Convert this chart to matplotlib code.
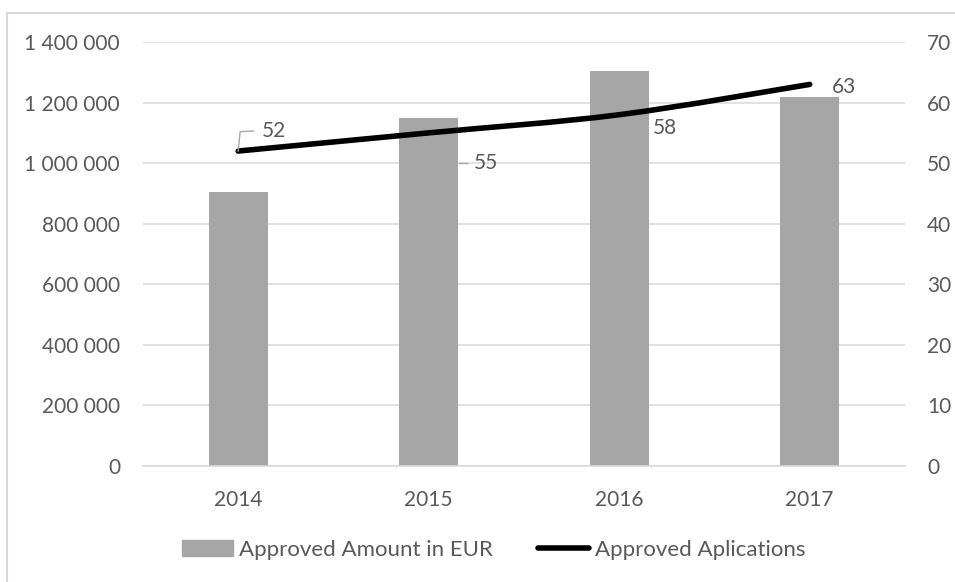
import matplotlib
matplotlib.use("Agg")
import matplotlib.pyplot as plt
from matplotlib.path import Path
from matplotlib.patches import PathPatch, Rectangle
from matplotlib.lines import Line2D
from matplotlib.ticker import FuncFormatter

plt.rcParams['font.family'] = ['Lato', 'DejaVu Sans']

years = ['2014', '2015', '2016', '2017']
amount = [905000, 1148000, 1305000, 1220000]
applications = [52, 55, 58, 63]

txt = '#595959'
grid = '#d9d9d9'
bar_col = '#a6a6a6'
fs = 15

fig = plt.figure(figsize=(9.55, 5.82), dpi=100)
ax = fig.add_axes([0.1497, 0.1993, 0.7979, 0.7285])
ax2 = ax.twinx()

x = list(range(len(years)))
ax.bar(x, amount, width=0.31, color=bar_col, zorder=2)
ax.set_xlim(-0.5, 3.5)
ax.set_ylim(0, 1400000)
ax.set_yticks(range(0, 1400001, 200000))
ax.yaxis.set_major_formatter(FuncFormatter(lambda v, p: f"{int(v):,}".replace(',', ' ')))
ax.grid(axis='y', color=grid, lw=1.1, zorder=0)
ax.set_axisbelow(True)
ax.set_xticks(x)
ax.set_xticklabels(years)

ax2.set_ylim(0, 70)
ax2.set_yticks(range(0, 71, 10))

for a in (ax, ax2):
    for s in a.spines.values():
        s.set_visible(False)
    a.tick_params(length=0, colors=txt, labelsize=fs)
ax.spines['bottom'].set_visible(True)
ax.spines['bottom'].set_color(grid)
ax.spines['bottom'].set_linewidth(1.1)
ax.tick_params(axis='y', pad=16.5)
ax.tick_params(axis='x', pad=17)
ax2.tick_params(axis='y', pad=16)

# smoothed line (Catmull-Rom style bezier through the data points)
pts = list(zip(x, applications))
verts = [pts[0]]
codes = [Path.MOVETO]
for i in range(len(pts) - 1):
    p0 = pts[i - 1] if i > 0 else pts[i]
    p1 = pts[i]
    p2 = pts[i + 1]
    p3 = pts[i + 2] if i + 2 < len(pts) else pts[i + 1]
    c1 = (p1[0] + (p2[0] - p0[0]) / 6, p1[1] + (p2[1] - p0[1]) / 6)
    c2 = (p2[0] - (p3[0] - p1[0]) / 6, p2[1] - (p3[1] - p1[1]) / 6)
    verts += [c1, c2, p2]
    codes += [Path.CURVE4] * 3
ax2.add_patch(PathPatch(Path(verts, codes), fill=False, edgecolor='black',
                        lw=4.0, capstyle='round', joinstyle='round', zorder=3))

# data labels
offsets = [(0.19, 3.3), (0.30, -5.0), (0.24, -2.2), (0.18, -0.5)]
for xi, v, (dx, dy) in zip(x, applications, offsets):
    ax2.text(xi + dx, v + dy, str(v), color=txt, fontsize=fs, ha='center', va='center', zorder=4)
# leader lines
ax2.plot([0, 0.01, 0.08], [52, 55.2, 55.3], color='#a6a6a6', lw=1, zorder=4)
ax2.plot([1.16, 1.2], [50.0, 50.0], color='#a6a6a6', lw=1, zorder=4)

# legend
handles = [Rectangle((0, 0), 1, 1, color=bar_col),
           Line2D([0], [0], color='black', lw=4.0, solid_capstyle='round')]
fig.legend(handles, ['Approved Amount in EUR', 'Approved Aplications'],
           loc='center', bbox_to_anchor=(0.517, 0.055), ncol=2, frameon=False,
           fontsize=16, labelcolor=txt, handlelength=2.3, handletextpad=0.3,
           columnspacing=2.0)

# chart border (only top and left edges fall inside the image)
fig.patches.append(Rectangle((0.007, -0.05), 1.1, 1.028, transform=fig.transFigure,
                             fill=False, edgecolor=grid, lw=1.5))

fig.savefig('out.png', dpi=100)
